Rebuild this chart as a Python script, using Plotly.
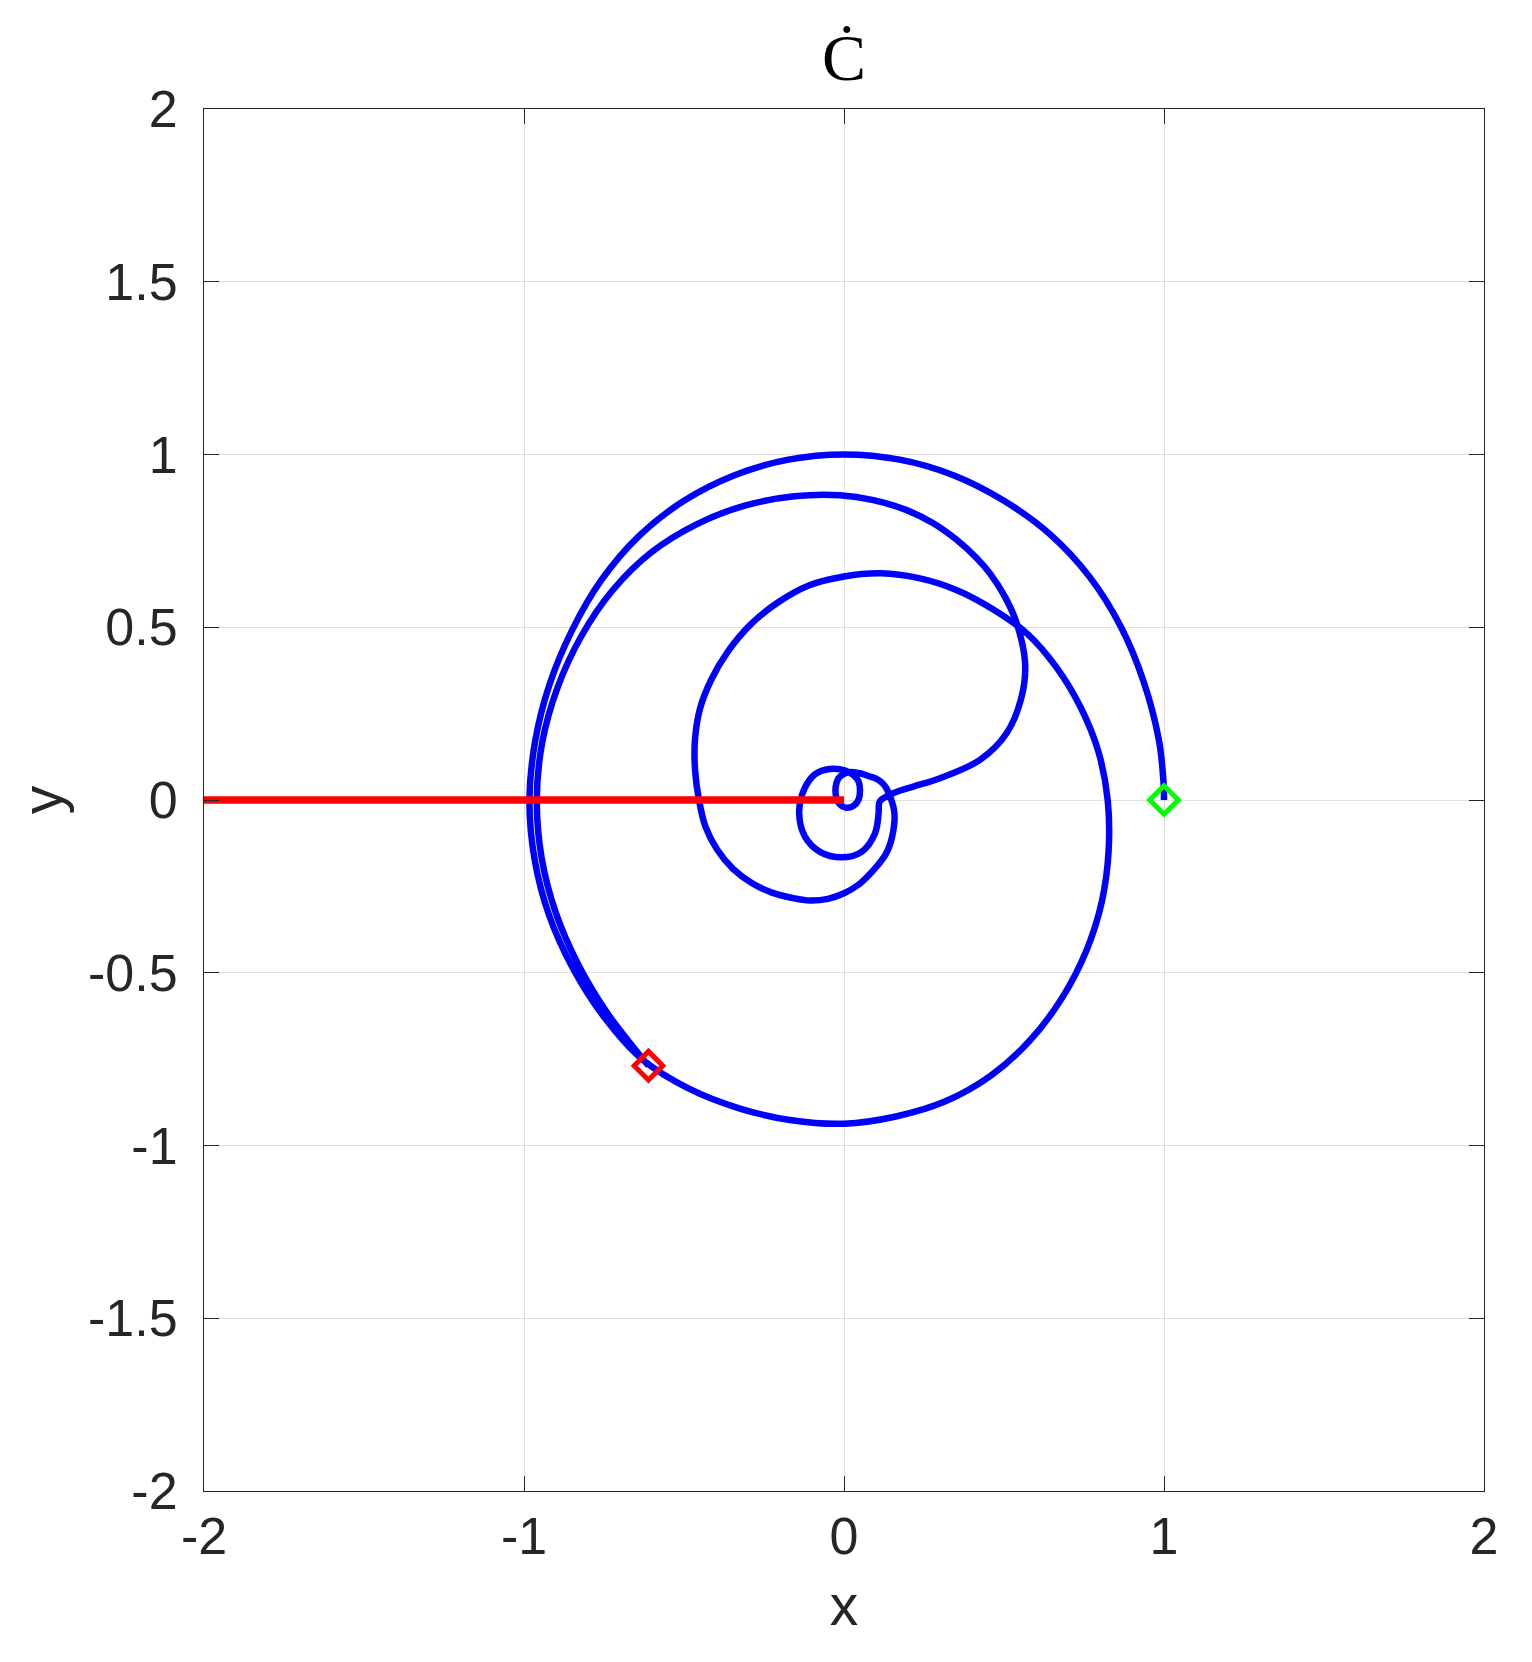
import plotly.graph_objects as go

# ---- data ----
# blue trajectory (one continuous path, start = green diamond, end = red diamond)
path_x = [
    # outer arc, counter-clockwise from the start point
    1.000, 0.998, 0.984, 0.937, 0.866, 0.768, 0.645, 0.500, 0.342, 0.174, 0.000,
    -0.174, -0.342, -0.500, -0.641, -0.758, -0.850, -0.920, -0.965, -0.983,
    -0.967, -0.921, -0.846, -0.749, -0.630,
    # bottom and right side of the big loop
    -0.483, -0.325, -0.164, 0.000, 0.162, 0.317, 0.460, 0.583, 0.682, 0.757,
    0.806, 0.827, 0.824, 0.795, 0.739, 0.664, 0.573,
    # third loop
    0.464, 0.351, 0.234, 0.116, 0.000, -0.110, -0.208, -0.293, -0.362, -0.415,
    -0.451, -0.466, -0.465, -0.453, -0.433, -0.396, -0.346, -0.287, -0.225,
    -0.164, -0.106, -0.050, 0.000, 0.044, 0.079, 0.108, 0.131, 0.146, 0.154,
    0.158, 0.156, 0.148, 0.138, 0.124, 0.104, 0.081, 0.062, 0.045, 0.022,
    # tiny loop near the origin
    0.000, -0.018, -0.026, -0.025, -0.014, 0.005, 0.028, 0.045, 0.050, 0.045,
    0.028, 0.005,
    # medium loop
    -0.044, -0.090, -0.125, -0.140, -0.122, -0.075, -0.007, 0.055, 0.097,
    0.108, 0.110, 0.118,
    # hook out to the crossing
    0.165, 0.217, 0.300, 0.425, 0.508, 0.555, 0.566, 0.540,
    # second arc back down the left side to the end point
    0.503, 0.456, 0.415, 0.352, 0.279, 0.196, 0.092, -0.0125,
    -0.155, -0.310, -0.461, -0.602, -0.723, -0.821,
    -0.895, -0.943, -0.960, -0.945, -0.900, -0.829, -0.738, -0.629, -0.611,
]
path_y = [
    0.000, 0.058, 0.174, 0.341, 0.500, 0.645, 0.768, 0.866, 0.940, 0.985, 1.000,
    0.985, 0.940, 0.866, 0.764, 0.637, 0.491, 0.335, 0.171, 0.000,
    -0.171, -0.335, -0.489, -0.629, -0.751,
    -0.836, -0.893, -0.927, -0.937, -0.916, -0.872, -0.797, -0.694, -0.572, -0.437,
    -0.293, -0.146, 0.000, 0.140, 0.269, 0.384, 0.481,
    0.553, 0.608, 0.642, 0.656, 0.647, 0.621, 0.571, 0.507, 0.431, 0.348,
    0.261, 0.170, 0.082, 0.000, -0.077, -0.144, -0.200, -0.241, -0.268,
    -0.283, -0.291, -0.286, -0.270, -0.246, -0.216, -0.186, -0.156, -0.122, -0.089,
    -0.057, -0.027, 0.000, 0.024, 0.045, 0.060, 0.068, 0.074, 0.078, 0.081,
    0.076, 0.062, 0.038, 0.012, -0.012, -0.022, -0.018, 0.000, 0.028, 0.055,
    0.073, 0.085,
    0.090, 0.075, 0.030, -0.039, -0.106, -0.150, -0.166, -0.150, -0.096,
    -0.039, -0.008, 0.002,
    0.024, 0.039, 0.063, 0.116, 0.193, 0.299, 0.396, 0.511,
    0.588, 0.656, 0.700, 0.753, 0.801, 0.839, 0.868, 0.882,
    0.879, 0.852, 0.798, 0.717, 0.607, 0.474,
    0.326, 0.167, 0.000, -0.167, -0.328, -0.479, -0.619, -0.749, -0.769,
]

# red branch-cut segment on the negative real axis
cut_x = [-2.0, 0.0]
cut_y = [0.0, 0.0]

# start / end markers
start_x, start_y = [1.0], [0.0]
end_x, end_y = [-0.611], [-0.769]

# axes ticks
x_tickvals = [-2, -1, 0, 1, 2]
x_ticktext = ["-2", "-1", "0", "1", "2"]
y_tickvals = [-2, -1.5, -1, -0.5, 0, 0.5, 1, 1.5, 2]
y_ticktext = ["-2", "-1.5", "-1", "-0.5", "0", "0.5", "1", "1.5", "2"]

TXT = "#262626"

fig = go.Figure()
fig.add_trace(go.Scatter(x=path_x, y=path_y, mode="lines",
                         line=dict(color="#0000FF", width=6.5, shape="spline",
                                   smoothing=1.0, simplify=False),
                         showlegend=False, hoverinfo="skip"))
fig.add_trace(go.Scatter(x=cut_x, y=cut_y, mode="lines",
                         line=dict(color="#FF0000", width=7.5),
                         showlegend=False, hoverinfo="skip"))
fig.add_trace(go.Scatter(x=start_x, y=start_y, mode="markers",
                         marker=dict(symbol="diamond-open", size=22, color="#00FF00",
                                     line=dict(color="#00FF00", width=5)),
                         showlegend=False, hoverinfo="skip"))
fig.add_trace(go.Scatter(x=end_x, y=end_y, mode="markers",
                         marker=dict(symbol="diamond-open", size=22, color="#FF0000",
                                     line=dict(color="#FF0000", width=5)),
                         showlegend=False, hoverinfo="skip"))

axis_common = dict(
    range=[-2, 2], showline=True, linecolor=TXT, linewidth=1, mirror="ticks",
    ticks="inside", ticklen=15, tickwidth=1, tickcolor=TXT,
    showgrid=True, gridcolor="#dfdfdf", gridwidth=1, zeroline=False,
    tickfont=dict(family="Liberation Sans", size=52, color=TXT),
)

fig.update_layout(
    width=1516, height=1646,
    margin=dict(l=196, r=40, t=101, b=163),
    paper_bgcolor="white", plot_bgcolor="white",
    title=dict(text="Ċ", x=0.5, xref="paper", xanchor="center",
               y=1 - 49 / 1646, yref="container", yanchor="middle",
               font=dict(family="Liberation Serif", size=66, color="#000000")),
    xaxis=dict(**axis_common, tickvals=x_tickvals, ticktext=x_ticktext,
               title=dict(text="x", standoff=20,
                          font=dict(family="Liberation Sans", size=57, color=TXT))),
    yaxis=dict(**axis_common, tickvals=y_tickvals, ticktext=y_ticktext,
               ticklabelstandoff=15,
               title=dict(text="y", standoff=7,
                          font=dict(family="Liberation Sans", size=57, color=TXT))),
)

fig.write_html("out.html")
